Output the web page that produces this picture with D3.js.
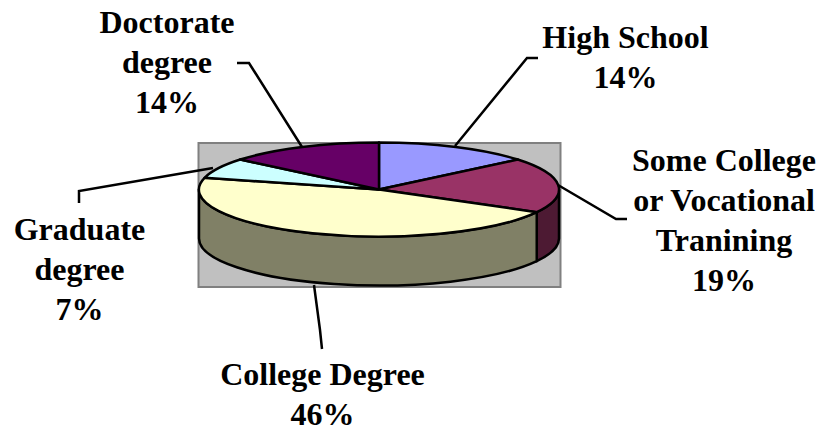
<!DOCTYPE html>
<html lang="en">
<head>
<meta charset="utf-8">
<title>Education</title>
<script src="https://d3js.org/d3.v7.min.js"></script>
<style>
  html, body { margin: 0; padding: 0; background: #fff; }
  text { font-family: "Liberation Serif", serif; font-weight: bold; font-size: 32px; fill: #000; text-anchor: middle; }
</style>
</head>
<body>
<svg width="820" height="432"></svg>
<script>
var categories = ["High School", "Some College or Vocational Tranining", "College Degree", "Graduate degree", "Doctorate degree"];
var shares = [14, 19, 46, 7, 14];
var shareLabels = ["14%", "19%", "46%", "7%", "14%"];
var labelLines = [["High School"], ["Some College", "or Vocational", "Tranining"], ["College Degree"], ["Graduate", "degree"], ["Doctorate", "degree"]];
var topColors = ["#9999FF", "#993366", "#FFFFCC", "#CCFFFF", "#660066"];
var sideColors = ["#4D4D80", "#4D1A33", "#808066", "#668080", "#330033"];

var labelX = [625.5, 724, 322.5, 79.5, 167];
var labelY = [48, 171, 385, 240, 33];
var leaders = [
  [[538, 58], [527, 58], [455, 146]],
  [[627, 219], [616, 219], [558, 185]],
  [[322, 349], [320, 330], [314, 285]],
  [[79, 203], [79, 191], [213, 168]],
  [[237, 63], [249, 63], [302, 147]]
];

var svg = d3.select("svg");
var cx = 379, cy = 189.5, rx = 180, ry = 47, depth = 49;
var lineH = 40;

// plot area
svg.append("rect")
  .attr("x", 198.5).attr("y", 143)
  .attr("width", 362).attr("height", 144)
  .attr("fill", "#C0C0C0")
  .attr("stroke", "#808080")
  .attr("stroke-width", 2);

var pie = d3.pie().sort(null);
var arcs = pie(shares);

function px(a) { return cx + rx * Math.sin(a); }
function py(a) { return cy - ry * Math.cos(a); }

// side wall, only the front half of the ellipse shows
var front = arcs.map(function(d, i) {
  return { i: i, a0: Math.max(d.startAngle, Math.PI / 2), a1: Math.min(d.endAngle, Math.PI * 1.5) };
}).filter(function(d) { return d.a1 > d.a0; });

svg.selectAll(".side")
  .data(front)
  .enter().append("path")
  .attr("class", "side")
  .attr("fill", function(d) { return sideColors[d.i]; })
  .attr("stroke", "#000")
  .attr("stroke-width", 2.5)
  .attr("stroke-linejoin", "round")
  .attr("d", function(d) {
    return "M" + px(d.a0) + "," + py(d.a0)
      + "A" + rx + "," + ry + " 0 0 1 " + px(d.a1) + "," + py(d.a1)
      + "L" + px(d.a1) + "," + (py(d.a1) + depth)
      + "A" + rx + "," + ry + " 0 0 0 " + px(d.a0) + "," + (py(d.a0) + depth)
      + "Z";
  });

// top face: unit arcs squashed into an ellipse
var arc = d3.arc().innerRadius(0).outerRadius(1);
svg.append("g")
  .attr("transform", "translate(" + cx + "," + cy + ") scale(" + rx + "," + ry + ")")
  .selectAll(".slice")
  .data(arcs)
  .enter().append("path")
  .attr("class", "slice")
  .attr("d", arc)
  .attr("fill", function(d, i) { return topColors[i]; })
  .attr("stroke", "#000")
  .attr("stroke-width", 2.5)
  .attr("stroke-linejoin", "round")
  .attr("vector-effect", "non-scaling-stroke");

// leader lines
var line = d3.line();
svg.selectAll(".leader")
  .data(leaders)
  .enter().append("path")
  .attr("class", "leader")
  .attr("d", line)
  .attr("fill", "none")
  .attr("stroke", "#000")
  .attr("stroke-width", 2.5);

// labels
categories.forEach(function(c, i) {
  var t = svg.append("text").attr("x", labelX[i]).attr("y", labelY[i]);
  labelLines[i].concat([shareLabels[i]]).forEach(function(s, j) {
    t.append("tspan").attr("x", labelX[i]).attr("y", labelY[i] + j * lineH).text(s);
  });
});
</script>
</body>
</html>
